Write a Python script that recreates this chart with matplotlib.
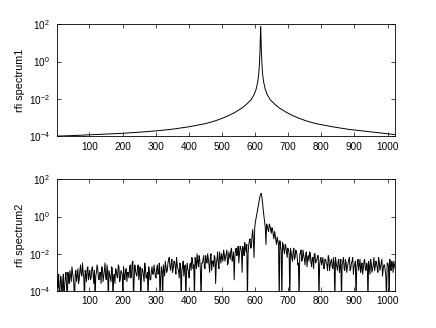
import numpy as np
import matplotlib
matplotlib.use('Agg')
import matplotlib.pyplot as plt

plt.rcParams.update({
    'font.family': 'Liberation Sans',
    'mathtext.fontset': 'custom',
    'mathtext.rm': 'Liberation Sans',
    'mathtext.it': 'Liberation Sans',
})

# spectrum 1: smooth peak (bin, log10 power)
x1 = [1, 50, 100, 150, 200, 250, 300, 350, 400, 450, 480, 500, 520, 540, 560,
      575, 588, 597, 603, 608, 611, 613, 615, 616, 617, 618, 619, 621, 623, 626,
      631, 637, 646, 659, 674, 694, 714, 734, 754, 784, 834, 884, 934, 984, 1024]
log_p1 = [-4.00, -3.97, -3.93, -3.89, -3.85, -3.79, -3.72, -3.63, -3.50, -3.33,
          -3.18, -3.05, -2.90, -2.72, -2.50, -2.28, -2.05, -1.78, -1.50, -1.10,
          -0.70, -0.20, 0.60, 1.30, 1.87, 1.30, 0.60, -0.20, -0.70, -1.10,
          -1.50, -1.78, -2.05, -2.28, -2.50, -2.72, -2.90, -3.05, -3.18, -3.33,
          -3.50, -3.64, -3.74, -3.84, -3.92]

# spectrum 2: noisy, log10 power at bins 1, 5, 9, ... (a) and 3, 7, 11, ... (b)
log_p2a = [
    -3.3, -3.8, -4.6, -3.2, -4.6, -3.1, -3.7, -3.0, -4.6, -3.4,
    -2.9, -3.5, -3.0, -3.7, -3.1, -3.5, -2.8, -3.4, -2.6, -3.2,
    -3.0, -4.6, -3.1, -2.8, -3.4, -2.9, -3.3, -2.7, -3.6, -4.6,
    -3.0, -2.8, -3.4, -3.0, -2.7, -3.5, -2.9, -3.3, -2.6, -4.6,
    -3.1, -3.5, -2.8, -3.2, -3.6, -2.9, -3.3, -2.7, -3.4, -3.0,
    -4.6, -3.2, -2.9, -3.5, -3.0, -2.8, -3.3, -2.5, -4.6, -2.6,
    -3.1, -2.8, -3.4, -2.7, -3.2, -2.9, -3.5, -2.8, -3.3, -4.6,
    -3.0, -3.4, -2.7, -3.1, -2.9, -3.3, -2.6, -3.0, -4.6, -2.7,
    -4.6, -2.9, -2.4, -3.0, -2.5, -2.2, -2.9, -2.3, -2.8, -2.4,
    -3.1, -2.6, -2.9, -2.5, -4.6, -2.7, -3.2, -2.6, -3.0, -2.8,
    -3.3, -2.5, -2.2, -2.8, -4.6, -2.4, -2.0, -2.7, -2.3, -4.6,
    -2.5, -2.1, -2.8, -2.4, -2.0, -2.6, -2.2, -2.9, -2.4, -2.1,
    -3.6, -2.3, -2.6, -1.9, -2.5, -2.2, -1.8, -2.4, -2.0, -2.6,
    -1.9, -2.3, -1.7, -2.2, -3.4, -1.8, -2.1, -1.6, -2.0, -1.7,
    -3.0, -1.8, -1.4, -1.9, -4.6, -1.5, -1.2, -1.6, -0.7, -2.2,
    -0.3, 0.1, 0.5, 0.9, 1.2, 1.0, 0.3, -0.3, -1.5, -0.5,
    -0.8, -0.5, -0.9, -0.7, -1.2, -1.0, -1.5, -1.3, -4.6, -1.6,
    -4.6, -1.5, -2.0, -1.6, -2.2, -1.8, -4.6, -1.9, -2.4, -1.7,
    -2.2, -1.9, -2.6, -4.6, -2.0, -2.4, -1.8, -2.3, -2.0, -2.7,
    -2.1, -1.9, -2.5, -2.2, -2.8, -2.0, -2.4, -2.1, -4.6, -2.3,
    -2.6, -2.2, -2.8, -2.3, -2.6, -2.1, -2.9, -2.4, -2.7, -2.2,
    -4.6, -2.5, -2.9, -2.3, -2.7, -4.6, -2.4, -2.8, -2.3, -3.0,
    -2.5, -2.2, -2.8, -2.4, -3.1, -2.6, -4.6, -2.5, -2.9, -2.3,
    -2.7, -3.1, -2.4, -2.8, -2.5, -4.6, -2.7, -2.3, -3.0, -2.6,
    -2.9, -2.4, -2.8, -2.2, -2.9, -2.5, -3.2, -2.6, -2.9, -4.6,
    -2.5, -4.6, -2.8, -2.4, -3.0, -2.6,
]
log_p2b = [
    -3.6, -3.1, -3.9, -3.4, -3.6, -4.6, -3.3, -3.8,
    -3.0, -3.6, -3.2, -2.7, -3.3, -4.6, -2.9, -3.2, -3.6, -2.9,
    -3.1, -2.5, -3.3, -2.9, -3.5, -2.7, -3.1,
    -3.4, -2.8, -3.1, -2.9, -3.2, -2.6, -3.3, -3.0, -3.6, -2.8,
    -3.2, -2.5, -3.4, -3.0, -2.9, -3.3, -2.7, -4.6, -3.1, -2.8,
    -3.2, -2.6, -3.5, -2.9, -3.1, -2.7, -3.4, -2.8, -3.0, -3.3,
    -2.6, -3.1, -2.4, -3.3, -2.9, -3.2, -2.6, -3.0, -4.6, -2.8,
    -3.2, -2.5, -3.3, -3.0, -2.7, -3.4, -2.9, -3.1, -2.6, -3.2,
    -2.8, -3.1, -2.5, -3.3, -2.9, -2.6, -3.2, -2.7, -2.9, -2.3,
    -2.7, -2.5, -3.0, -2.4, -2.7, -2.2, -2.8, -3.3, -2.6, -2.9,
    -2.4, -2.8, -4.6, -2.5, -3.0,
    -2.6, -2.9, -2.3, -2.6, -2.2, -2.8, -2.4, -2.1, -2.9, -2.5,
    -2.3, -2.7, -2.1, -2.5, -2.3, -3.0, -2.0, -2.4, -2.7, -2.2,
    -2.5, -1.9, -2.8, -2.2, -2.0,
    -2.4, -2.0, -2.2, -1.8, -2.5, -2.1, -1.8, -2.4, -1.9, -2.2,
    -1.7, -2.0, -2.5, -1.6, -1.9,
    -1.6, -2.1, -1.7, -1.5, -2.0, -1.3, -1.7,
    -1.0, -1.3, -0.6, -0.1, 0.3, 0.7, 1.1, 1.25, 0.7, 0.0,
    -0.6, -0.4, -0.7, -0.4, -0.7, -0.6, -1.0, -0.8, -1.3, -1.1,
    -1.5, -1.3, -1.8, -1.4, -1.8, -1.5, -1.9, -1.7,
    -2.0, -1.7, -2.2, -1.9, -2.3, -1.8, -2.1, -2.5, -2.0, -1.8,
    -2.3, -2.1, -2.6, -1.9, -2.2, -2.4, -2.0, -2.7, -2.2, -2.0,
    -2.5, -2.3, -2.1, -2.6, -2.2,
    -2.4, -2.8, -2.3, -2.5, -2.9, -2.2, -2.6, -2.3, -2.8, -2.5,
    -2.2, -2.7, -2.4, -3.0, -2.3, -2.6, -2.2, -2.9, -2.5, -2.7,
    -2.3, -2.9, -2.5, -2.2, -2.7,
    -2.4, -2.8, -2.3, -2.6, -3.0, -2.5, -2.8, -2.3, -2.9, -2.6,
    -2.4, -3.1, -2.5, -2.8, -2.2, -2.7, -2.5, -3.0, -2.4, -2.7,
    -2.3, -2.8, -2.6, -3.2, -2.5, -2.7, -2.3, -2.9, -2.6, -2.4,
    -2.8,
]
x2 = np.arange(1, 1024, 2)
log_p2 = np.column_stack([log_p2a, log_p2b]).ravel()

labels = ['rfi spectrum1', 'rfi spectrum2']
xticks = [100, 200, 300, 400, 500, 600, 700, 800, 900, 1000]
yticks = [1e-4, 1e-2, 1e0, 1e2]

fig = plt.figure(figsize=(4.36, 3.28), dpi=100)
ax1 = fig.add_axes([0.13, 0.585, 0.777, 0.341])
ax2 = fig.add_axes([0.13, 0.113, 0.777, 0.340])

ax1.plot(x1, 10.0 ** np.array(log_p1), color='black', lw=0.7)
ax2.plot(x2, 10.0 ** log_p2, color='black', lw=0.7)

for ax, lab in zip([ax1, ax2], labels):
    ax.set_yscale('log')
    ax.set_xlim(1, 1024)
    ax.set_ylim(1e-4, 1e2)
    ax.set_xticks(xticks)
    ax.set_yticks(yticks)
    ax.minorticks_off()
    ax.tick_params(direction='in', length=3, width=0.5, labelsize=7.2,
                   top=True, right=True, pad=4)
    ax.tick_params(axis='y', pad=5)
    for s in ax.spines.values():
        s.set_linewidth(0.6)
    ax.set_ylabel(lab, fontsize=7.8, labelpad=3)

fig.savefig('out.png', dpi=100)
